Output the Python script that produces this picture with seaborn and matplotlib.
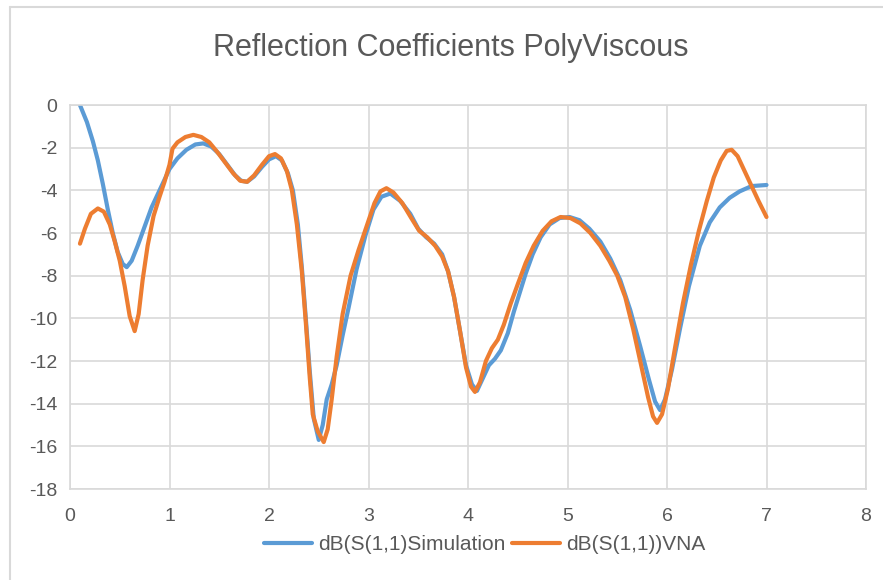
import pandas as pd
import matplotlib
matplotlib.use("Agg")
import matplotlib.pyplot as plt
from matplotlib.lines import Line2D
import seaborn as sns

# dB(S(1,1)) vs frequency
sim_x = [0.10, 0.17, 0.23, 0.28, 0.33, 0.38, 0.43, 0.48, 0.53, 0.57, 0.62, 0.68, 0.75, 0.82,
         0.90, 1.00, 1.08, 1.17, 1.26, 1.34, 1.42, 1.50, 1.58, 1.66, 1.72, 1.78, 1.85, 1.93,
         2.00, 2.07, 2.13, 2.19, 2.24, 2.29, 2.33, 2.37, 2.41, 2.45, 2.50, 2.54, 2.58, 2.63,
         2.68, 2.74, 2.80, 2.88, 2.97, 3.05, 3.13, 3.22, 3.32, 3.42, 3.50, 3.58, 3.66, 3.74,
         3.80, 3.86, 3.92, 3.98, 4.04, 4.09, 4.15, 4.21, 4.27, 4.33, 4.40, 4.46, 4.52, 4.58,
         4.65, 4.73, 4.82, 4.92, 5.02, 5.12, 5.22, 5.33, 5.43, 5.53, 5.63, 5.73, 5.82, 5.88,
         5.93, 5.98, 6.05, 6.13, 6.22, 6.33, 6.43, 6.53, 6.63, 6.73, 6.85, 7.00]
sim_db = [0.0, -0.8, -1.7, -2.6, -3.7, -4.9, -6.0, -6.9, -7.45, -7.6, -7.3, -6.6, -5.7, -4.8,
          -4.0, -3.0, -2.5, -2.1, -1.85, -1.8, -1.95, -2.3, -2.8, -3.3, -3.55, -3.6, -3.35, -2.9,
          -2.55, -2.4, -2.6, -3.2, -4.0, -5.6, -7.6, -10.0, -12.5, -14.7, -15.7, -15.0, -13.8, -13.1,
          -12.2, -10.8, -9.5, -7.7, -6.1, -4.9, -4.3, -4.15, -4.5, -5.1, -5.8, -6.2, -6.5, -7.0,
          -7.8, -9.0, -10.6, -12.2, -13.1, -13.4, -12.8, -12.2, -11.9, -11.5, -10.7, -9.7, -8.8, -7.9,
          -7.0, -6.2, -5.6, -5.3, -5.25, -5.4, -5.8, -6.4, -7.2, -8.2, -9.6, -11.3, -12.9, -13.9,
          -14.3, -13.8, -12.4, -10.5, -8.5, -6.6, -5.5, -4.8, -4.35, -4.05, -3.8, -3.75]

vna_x = [0.10, 0.15, 0.21, 0.28, 0.34, 0.40, 0.45, 0.50, 0.55, 0.60, 0.65, 0.69, 0.73, 0.78,
         0.84, 0.90, 0.95, 1.00, 1.03, 1.08, 1.16, 1.24, 1.32, 1.40, 1.48, 1.56, 1.64, 1.71,
         1.78, 1.85, 1.93, 2.00, 2.06, 2.12, 2.18, 2.23, 2.28, 2.33, 2.37, 2.41, 2.44, 2.49,
         2.55, 2.59, 2.63, 2.68, 2.74, 2.82, 2.90, 2.98, 3.06, 3.12, 3.18, 3.25, 3.34, 3.43,
         3.51, 3.59, 3.67, 3.74, 3.80, 3.86, 3.92, 3.98, 4.03, 4.07, 4.12, 4.18, 4.24, 4.30,
         4.36, 4.43, 4.50, 4.58, 4.66, 4.75, 4.84, 4.93, 5.03, 5.13, 5.23, 5.33, 5.42, 5.50,
         5.58, 5.66, 5.74, 5.81, 5.86, 5.90, 5.95, 6.01, 6.08, 6.16, 6.24, 6.32, 6.40, 6.47,
         6.54, 6.60, 6.65, 6.71, 6.78, 6.85, 6.92, 7.00]
vna_db = [-6.5, -5.8, -5.1, -4.85, -5.0, -5.6, -6.4, -7.3, -8.5, -9.9, -10.6, -9.8, -8.2, -6.6,
          -5.2, -4.3, -3.6, -2.8, -2.05, -1.75, -1.5, -1.4, -1.5, -1.75, -2.2, -2.7, -3.2, -3.55,
          -3.6, -3.3, -2.8, -2.4, -2.3, -2.5, -3.1, -4.0, -5.6, -7.8, -10.2, -12.8, -14.5, -15.3,
          -15.8, -15.2, -13.8, -11.8, -9.8, -8.0, -6.8, -5.7, -4.6, -4.05, -3.9, -4.1, -4.6, -5.3,
          -5.9, -6.2, -6.6, -7.1, -7.8, -9.0, -10.6, -12.3, -13.2, -13.45, -13.0, -12.0, -11.4, -11.0,
          -10.3, -9.3, -8.4, -7.4, -6.6, -5.9, -5.45, -5.25, -5.3, -5.55, -6.0, -6.6, -7.3, -8.0,
          -9.0, -10.5, -12.2, -13.7, -14.6, -14.9, -14.5, -13.3, -11.4, -9.3, -7.5, -5.9, -4.5, -3.4,
          -2.6, -2.15, -2.1, -2.4, -3.1, -3.8, -4.5, -5.25]

sim_label = "dB(S(1,1)Simulation"
vna_label = "dB(S(1,1))VNA"

df = pd.concat([
    pd.DataFrame({"freq": sim_x, "db": sim_db, "series": sim_label}),
    pd.DataFrame({"freq": vna_x, "db": vna_db, "series": vna_label}),
])

sns.set_style("white")
plt.rcParams["font.family"] = ["Liberation Sans", "DejaVu Sans"]
plt.rcParams["axes.unicode_minus"] = False

text_col = "#595959"
grid_col = "#d9d9d9"

fig = plt.figure(figsize=(8.83, 5.8), dpi=100)
ax = fig.add_axes([70 / 883, 1 - 489 / 580, (866 - 70) / 883, (489 - 105) / 580])

sns.lineplot(data=df, x="freq", y="db", hue="series", sort=False,
             palette={sim_label: "#5b9bd5", vna_label: "#ed7d31"},
             linewidth=3, ax=ax, legend=True)
for ln in ax.get_lines():
    ln.set_solid_joinstyle("round")
    ln.set_solid_capstyle("round")

ax.set_xlim(0, 8)
ax.set_ylim(-18, 0)
ax.set_xticks(range(0, 9))
ax.set_yticks(range(-18, 1, 2))
ax.grid(True, color=grid_col, linewidth=1.2)
ax.set_axisbelow(True)
for sp in ax.spines.values():
    sp.set_color(grid_col)
    sp.set_linewidth(1.2)
ax.tick_params(axis="both", length=0, labelsize=14, labelcolor=text_col)
ax.tick_params(axis="x", pad=14)
ax.tick_params(axis="y", pad=9)
ax.set_xlabel("")
ax.set_ylabel("")

fig.text(451 / 883, 1 - 48 / 580, "Reflection Coefficients PolyViscous",
         ha="center", va="center", fontsize=22, color=text_col)

ax.legend(loc="center", bbox_to_anchor=(485 / 883, 1 - 545 / 580), bbox_transform=fig.transFigure,
          ncol=2, frameon=False, fontsize=15, handlelength=2.3, handletextpad=0.3,
          columnspacing=0.3, labelcolor=text_col)

# light chart-area border (left and top visible in the crop)
fig.add_artist(Line2D([10 / 883, 10 / 883], [0, 1 - 7 / 580], transform=fig.transFigure,
                      color=grid_col, linewidth=1.5))
fig.add_artist(Line2D([10 / 883, 1], [1 - 7 / 580, 1 - 7 / 580], transform=fig.transFigure,
                      color=grid_col, linewidth=1.5))

fig.savefig("out.png", dpi=100, facecolor="white")
